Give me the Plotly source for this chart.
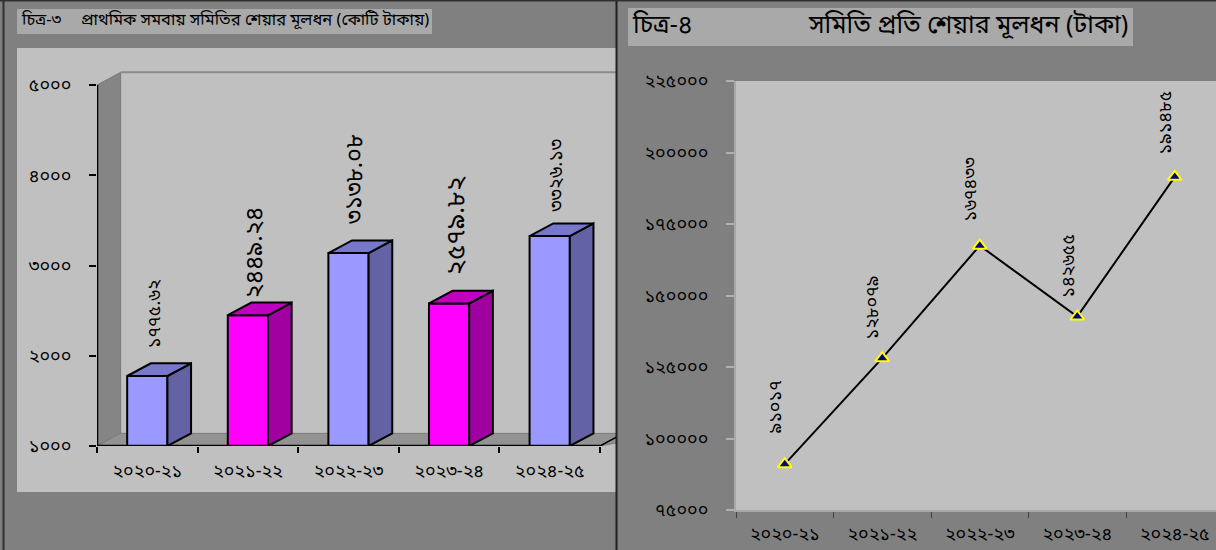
import plotly.graph_objects as go

# ---------------- data ----------------
years = ["২০২০-২১", "২০২১-২২", "২০২২-২৩", "২০২৩-২৪", "২০২৪-২৫"]
capital_crore = [1775.62, 2449.24, 3138.08, 2579.82, 3326.13]
share_per_society = [91017, 128079, 167433, 142655, 191485]

left_yticks = [1000, 2000, 3000, 4000, 5000]
left_yticktext = ["১০০০", "২০০০", "৩০০০", "৪০০০", "৫০০০"]
right_yticks = [75000, 100000, 125000, 150000, 175000, 200000, 225000]
right_yticktext = ["৭৫০০০", "১০০০০০", "১২৫০০০", "১৫০০০০", "১৭৫০০০", "২০০০০০", "২২৫০০০"]

title_left_a = "চিত্র-৩"
title_left_b = "প্রাথমিক সমবায় সমিতির শেয়ার মূলধন (কোটি টাকায়)"
title_right_a = "চিত্র-৪"
title_right_b = "সমিতি প্রতি শেয়ার মূলধন (টাকা)"

BN = str.maketrans("0123456789", "০১২৩৪৫৬৭৮৯")
def bn(s):
    return str(s).translate(BN)

# ---------------- style ----------------
W, H = 1216, 550
FONT = "Noto Sans Bengali, Noto Sans, sans-serif"
front_cols = ["#9999ff", "#ff00ff", "#9999ff", "#ff00ff", "#9999ff"]
side_cols = ["#6262a4", "#a000a0", "#6262a4", "#a000a0", "#6262a4"]
top_cols = ["#7777cc", "#c000c0", "#7777cc", "#c000c0", "#7777cc"]

def px_x(p):
    return p / W
def px_y(p):
    return 1 - p / H

# left chart geometry
Lx0, Lx1 = 97, 616
Lrange_x = [-0.5, -0.5 + (Lx1 - Lx0) / 100.6]
Ly_bot, Ly_top = 446, 60
Lrange_y = [1000, 1000 + (Ly_bot - Ly_top) / 90.25 * 1000]
DX = 0.235          # depth offset in category units
DY = 140            # depth offset in value units
BW = 0.40           # bar width

# right chart geometry
Rx0, Rx1 = 736, 1216
Rrange_x = [-0.5, -0.5 + (Rx1 - Rx0) / 97.5]
Ry_bot, Ry_top = 510, 81

fig = go.Figure()

xs = list(range(len(years)))

# front faces
fig.add_trace(go.Bar(
    x=xs, y=[v - 1000 for v in capital_crore], base=1000, width=BW,
    marker=dict(color=front_cols, line=dict(color="black", width=2)),
    xaxis="x", yaxis="y", showlegend=False, hoverinfo="skip"))

# side + top faces
for i, v in enumerate(capital_crore):
    r = i + BW / 2
    l = i - BW / 2
    fig.add_trace(go.Scatter(
        x=[r, r + DX, r + DX, r, r], y=[1000, 1000 + DY, v + DY, v, 1000],
        fill="toself", fillcolor=side_cols[i], mode="lines",
        line=dict(color="black", width=2), xaxis="x", yaxis="y",
        showlegend=False, hoverinfo="skip"))
    fig.add_trace(go.Scatter(
        x=[l, r, r + DX, l + DX, l], y=[v, v, v + DY, v + DY, v],
        fill="toself", fillcolor=top_cols[i], mode="lines",
        line=dict(color="black", width=2), xaxis="x", yaxis="y",
        showlegend=False, hoverinfo="skip"))

# line chart
fig.add_trace(go.Scatter(
    x=xs, y=share_per_society, mode="lines+markers",
    line=dict(color="black", width=2),
    marker=dict(symbol="triangle-up", size=12, color="#000080",
                line=dict(color="#ffff00", width=2)),
    xaxis="x2", yaxis="y2", showlegend=False, hoverinfo="skip"))

shapes = []
# outer panels
shapes.append(dict(type="rect", xref="paper", yref="paper",
                   x0=px_x(17), x1=px_x(616), y0=px_y(492), y1=px_y(48),
                   fillcolor="#c0c0c0", line=dict(width=0), layer="below"))
shapes.append(dict(type="rect", xref="paper", yref="paper",
                   x0=px_x(17), x1=px_x(432), y0=px_y(34), y1=px_y(9),
                   fillcolor="#a9a9a9", line=dict(width=0), layer="below"))
shapes.append(dict(type="rect", xref="paper", yref="paper",
                   x0=px_x(628), x1=px_x(1133), y0=px_y(46), y1=px_y(8),
                   fillcolor="#a9a9a9", line=dict(width=0), layer="below"))
# borders
shapes.append(dict(type="line", xref="paper", yref="paper",
                   x0=px_x(616.5), x1=px_x(616.5), y0=0, y1=1,
                   line=dict(color="#202020", width=2)))
shapes.append(dict(type="line", xref="paper", yref="paper",
                   x0=px_x(3.5), x1=px_x(3.5), y0=0, y1=1,
                   line=dict(color="#303030", width=2)))
shapes.append(dict(type="line", xref="paper", yref="paper",
                   x0=0, x1=1, y0=px_y(0.8), y1=px_y(0.8),
                   line=dict(color="#303030", width=1.5)))

# 3D walls for left chart
xe = Lrange_x[1]
shapes.append(dict(type="path", xref="x", yref="y", layer="below",
                   path=f"M -0.5 1000 L {-0.5+DX} {1000+DY} L {-0.5+DX} {5000+DY} L -0.5 5000 Z",
                   fillcolor="#858585", line=dict(color="#7a7a7a", width=1)))
shapes.append(dict(type="path", xref="x", yref="y", layer="below",
                   path=f"M -0.5 1000 L {-0.5+DX} {1000+DY} L {xe+0.5} {1000+DY} L 4.5 1000 Z",
                   fillcolor="#939393", line=dict(color="#7a7a7a", width=1)))
shapes.append(dict(type="line", xref="x", yref="y",
                   x0=-0.5 + DX, x1=xe + 0.5, y0=5000 + DY, y1=5000 + DY,
                   line=dict(color="#8c8c8c", width=2), layer="below"))
# axis lines (left)
shapes.append(dict(type="line", xref="x", yref="y",
                   x0=-0.5, x1=-0.5, y0=1000, y1=5000,
                   line=dict(color="black", width=2.5)))
shapes.append(dict(type="line", xref="x", yref="y",
                   x0=-0.5, x1=4.5, y0=1000, y1=1000,
                   line=dict(color="black", width=2.5)))
shapes.append(dict(type="line", xref="x", yref="y",
                   x0=4.5, x1=4.5 + DX, y0=1000, y1=1000 + DY,
                   line=dict(color="black", width=1.5)))

annotations = []
# titles
annotations.append(dict(xref="paper", yref="paper", x=px_x(19), y=px_y(21),
                        xanchor="left", yanchor="middle", showarrow=False,
                        text=title_left_a, font=dict(family=FONT, size=16.5, color="black")))
annotations.append(dict(xref="paper", yref="paper", x=px_x(79), y=px_y(21),
                        xanchor="left", yanchor="middle", showarrow=False,
                        text=title_left_b, font=dict(family=FONT, size=16.5, color="black")))
annotations.append(dict(xref="paper", yref="paper", x=px_x(630), y=px_y(27),
                        xanchor="left", yanchor="middle", showarrow=False,
                        text=title_right_a, font=dict(family=FONT, size=25, color="black")))
annotations.append(dict(xref="paper", yref="paper", x=px_x(1130), y=px_y(27),
                        xanchor="right", yanchor="middle", showarrow=False,
                        text=title_right_b, font=dict(family=FONT, size=25, color="black")))

# bar labels
bar_label_size = [18, 24, 23.5, 26, 19]
bar_label_gap = [13, 2, 14, 13, 10]
for i, v in enumerate(capital_crore):
    annotations.append(dict(xref="x", yref="y", x=i + 0.08, y=v + DY,
                            xanchor="center", yanchor="bottom", yshift=bar_label_gap[i],
                            showarrow=False, textangle=-90, text=bn(f"{v:.2f}"),
                            font=dict(family=FONT, size=bar_label_size[i], color="black")))
# line labels
line_label_gap = [29, 17, 22, 17, 20]
for i, v in enumerate(share_per_society):
    annotations.append(dict(xref="x2", yref="y2", x=i, y=v,
                            xanchor="center", yanchor="bottom", yshift=line_label_gap[i],
                            xshift=-9, showarrow=False, textangle=-90, text=bn(v),
                            font=dict(family=FONT, size=18, color="black")))

TICKF = dict(size=18, family=FONT, color="black")
fig.update_layout(
    width=W, height=H,
    margin=dict(l=0, r=0, t=0, b=0, pad=0),
    paper_bgcolor="#808080", plot_bgcolor="#c0c0c0",
    font=dict(family=FONT, color="black"),
    shapes=shapes, annotations=annotations,
    xaxis=dict(domain=[px_x(Lx0), px_x(Lx1)], range=Lrange_x, automargin=False,
               tickvals=xs, ticktext=years, ticks="", showgrid=False,
               zeroline=False, showline=False, anchor="y",
               tickfont=TICKF, ticklabelstandoff=12,
               minor=dict(tickvals=[-0.5, 0.5, 1.5, 2.5, 3.5, 4.5], ticks="outside",
                          ticklen=6, tickcolor="black", tickwidth=1.5, showgrid=False)),
    yaxis=dict(domain=[px_y(Ly_bot), px_y(Ly_top)], range=Lrange_y, automargin=False,
               tickvals=left_yticks, ticktext=left_yticktext,
               ticks="outside", ticklen=7, tickcolor="black", tickwidth=1.5,
               showgrid=False, zeroline=False, showline=False, anchor="x",
               tickfont=TICKF, ticklabelstandoff=14),
    xaxis2=dict(domain=[px_x(Rx0), px_x(Rx1)], range=Rrange_x, automargin=False,
                tickvals=xs, ticktext=years, ticks="", showgrid=False,
                zeroline=False, showline=True, linecolor="#a8a8a8", linewidth=2,
                anchor="y2", tickfont=TICKF, ticklabelstandoff=6,
                minor=dict(tickvals=[-0.5, 0.5, 1.5, 2.5, 3.5], ticks="outside",
                           ticklen=6, tickcolor="#404040", tickwidth=1, showgrid=False)),
    yaxis2=dict(domain=[px_y(Ry_bot), px_y(Ry_top)], range=[75000, 225000], automargin=False,
                tickvals=right_yticks, ticktext=right_yticktext,
                ticks="outside", ticklen=8, tickcolor="#b0b0b0", tickwidth=1.5,
                showgrid=False, zeroline=False, showline=True, linecolor="#a8a8a8",
                linewidth=2, anchor="x2", tickfont=TICKF, ticklabelstandoff=14),
)

fig.write_html("out.html", config={"displayModeBar": False},
               post_script="document.body.style.margin='0';")
